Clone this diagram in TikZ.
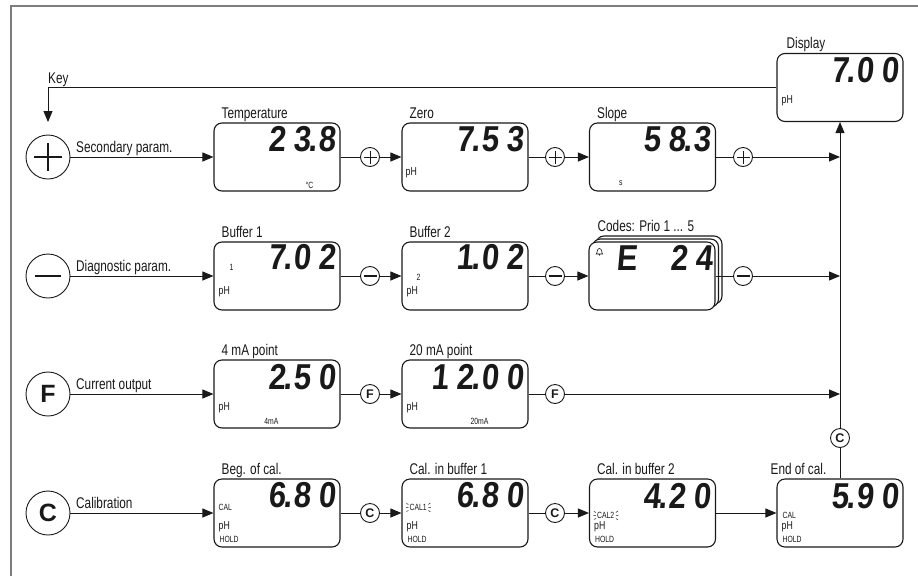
\documentclass[tikz,border=0pt]{standalone}
\usepackage{fontspec}
\setmainfont{Liberation Sans}[FakeStretch=0.76]
\newfontfamily\lcdfont{Liberation Sans}[FakeSlant=0.09, FakeStretch=0.86]
\newfontfamily\keyfont{Liberation Sans}
\usetikzlibrary{arrows.meta,calc}
\newcommand\lcdnum[1]{\lcdloop#1\relax}
\def\lcdloop#1{\ifx\relax#1\else\lcdch{#1}\expandafter\lcdloop\fi}
\def\lcdch#1{\ifx.#1\rlap{\kern-2pt.}\else\hbox to 25pt{\hss#1}\fi}
\newcommand\lcdblank{\hbox to 25pt{}}
\newcommand\lblfont{\fontsize{15.5}{18}\selectfont}
\newcommand\phfont{\fontsize{11.5}{13}\selectfont}
\newcommand\tinyfont{\fontsize{9}{10}\selectfont}
\definecolor{framec}{RGB}{125,125,125}
\definecolor{ink}{RGB}{25,25,25}
\tikzset{
  lcdbox/.style={draw=ink, rounded corners=8pt, minimum width=126pt, minimum height=68pt, line width=1.1pt, inner sep=0pt, fill=white},
  keyc/.style={draw=ink, circle, minimum size=44pt, inner sep=0pt, line width=0.9pt},
  smc/.style={draw=ink, circle, minimum size=19pt, inner sep=0pt, line width=0.9pt},
  conn/.style={draw=ink, line width=0.9pt},
  arr/.style={conn, -{Triangle[length=11pt,width=9pt]}},
  lbl/.style={inner sep=0pt, font=\lblfont, text=ink},
  num/.style={inner sep=0pt, font=\lcdfont\bfseries\fontsize{36}{40}\selectfont, text=ink, anchor=north east},
  phl/.style={inner sep=0pt, font=\phfont, text=ink, anchor=west},
  tiny/.style={inner sep=0pt, font=\tinyfont, text=ink},
  bigkey/.style={font=\keyfont\bfseries\fontsize{25}{26}\selectfont, text=ink, inner sep=0pt},
  smkey/.style={font=\keyfont\bfseries\fontsize{12.5}{13}\selectfont, text=ink, inner sep=0pt},
}
\begin{document}
\begin{tikzpicture}[x=1pt,y=-1pt]
\useasboundingbox (0,0) rectangle (918,576);
\draw[framec, line width=1.6pt] (11,576) -- (11,6) -- (918,6);

% ---------- boxes ----------
\node[lcdbox] (disp) at (840,87.5) {};
\node[lcdbox] (temp) at (277,157) {};
\node[lcdbox] (zero) at (465,157) {};
\node[lcdbox] (slope) at (652.5,157) {};
\node[lcdbox] (b1) at (277,276) {};
\node[lcdbox] (b2) at (465,276) {};
\node[lcdbox] (codesc) at (659,270) {};
\node[lcdbox] (codesb) at (655.5,273) {};
\node[lcdbox] (codes) at (652,276) {};
\node[lcdbox] (p1) at (277,394) {};
\node[lcdbox] (p2) at (465,394) {};
\node[lcdbox] (c1) at (277,513) {};
\node[lcdbox] (c2) at (465,513) {};
\node[lcdbox] (c3) at (652.5,513) {};
\node[lcdbox] (endc) at (840,513) {};

% ---------- box titles ----------
\node[lbl, anchor=base west] (tdisp) at ($(disp.north west)+(10,-4)$) {Display};
\node[lbl, anchor=base west] (ttemp) at ($(temp.north west)+(8,-4)$) {Temperature};
\node[lbl, anchor=base west] (tzero) at ($(zero.north west)+(8,-4)$) {Zero};
\node[lbl, anchor=base west] (tslope) at ($(slope.north west)+(8,-4)$) {Slope};
\node[lbl, anchor=base west] (tb1) at ($(b1.north west)+(8,-4)$) {Buffer 1};
\node[lbl, anchor=base west] (tb2) at ($(b2.north west)+(8,-4)$) {Buffer 2};
\node[lbl, anchor=base west] (tcodes) at ($(codes.north west)+(9,-10)$) {Codes: Prio 1 ... 5};
\node[lbl, anchor=base west] (tp1) at ($(p1.north west)+(8,-4)$) {4 mA point};
\node[lbl, anchor=base west] (tp2) at ($(p2.north west)+(8,-4)$) {20 mA point};
\node[lbl, anchor=base west] (tc1) at ($(c1.north west)+(8,-4)$) {Beg. of cal.};
\node[lbl, anchor=base west] (tc2) at ($(c2.north west)+(8,-4)$) {Cal. in buffer 1};
\node[lbl, anchor=base west] (tc3) at ($(c3.north west)+(8,-4)$) {Cal. in buffer 2};
\node[lbl, anchor=base west] (tendc) at ($(endc.north west)+(-6,-4)$) {End of cal.};

% ---------- readings ----------
\node[num] (ndisp) at ($(disp.north east)+(-5,4)$) {\lcdnum{7.00}};
\node[num] (ntemp) at ($(temp.north east)+(-5,4)$) {\lcdnum{23.8}};
\node[num] (nzero) at ($(zero.north east)+(-5,4)$) {\lcdnum{7.53}};
\node[num] (nslope) at ($(slope.north east)+(-5,4)$) {\lcdnum{58.3}};
\node[num] (nb1) at ($(b1.north east)+(-5,3)$) {\lcdnum{7.02}};
\node[num] (nb2) at ($(b2.north east)+(-5,3)$) {\lcdnum{1.02}};
\node[num] (ncodes) at ($(codes.north east)+(-3,4)$) {\lcdnum{E}\lcdblank\lcdnum{24}};
\node[num] (np1) at ($(p1.north east)+(-5,5)$) {\lcdnum{2.50}};
\node[num] (np2) at ($(p2.north east)+(-5,5)$) {\lcdnum{12.00}};
\node[num] (nc1) at ($(c1.north east)+(-5,4)$) {\lcdnum{6.80}};
\node[num] (nc2) at ($(c2.north east)+(-5,4)$) {\lcdnum{6.80}};
\node[num] (nc3) at ($(c3.north east)+(-5,5)$) {\lcdnum{4.20}};
\node[num] (nendc) at ($(endc.north east)+(-5,5)$) {\lcdnum{5.90}};

% ---------- small annotations ----------
\node[phl] (phdisp) at ($(disp.north west)+(5,48)$) {pH};
\node[tiny] (degc) at ($(temp.north west)+(96,63)$) {°C};
\node[phl] (phzero) at ($(zero.north west)+(4,50)$) {pH};
\node[tiny] (sslope) at ($(slope.north west)+(32,61)$) {s};
\node[tiny] (one) at ($(b1.north west)+(18,26)$) {1};
\node[phl] (phb1) at ($(b1.north west)+(5,50)$) {pH};
\node[tiny] (two) at ($(b2.north west)+(17,36)$) {2};
\node[phl] (phb2) at ($(b2.north west)+(5,50)$) {pH};
\node[phl] (php1) at ($(p1.north west)+(5,48)$) {pH};
\node[tiny] (ma4) at ($(p1.north west)+(58,62)$) {4mA};
\node[phl] (php2) at ($(p2.north west)+(5,48)$) {pH};
\node[tiny] (ma20) at ($(p2.north west)+(78,62)$) {20mA};
\node[tiny, anchor=west] (cal0) at ($(c1.north west)+(5,29)$) {CAL};
\node[phl] (phc1) at ($(c1.north west)+(5,48)$) {pH};
\node[tiny, anchor=west] (hold1) at ($(c1.north west)+(6,61)$) {HOLD};
\node[tiny, anchor=west] (cal1) at ($(c2.north west)+(8,29)$) {CAL1};
\node[phl] (phc2) at ($(c2.north west)+(5,48)$) {pH};
\node[tiny, anchor=west] (hold2) at ($(c2.north west)+(6,61)$) {HOLD};
\node[tiny, anchor=west] (cal2) at ($(c3.north west)+(8,37)$) {CAL2};
\node[phl] (phc3) at ($(c3.north west)+(5,48)$) {pH};
\node[tiny, anchor=west] (hold3) at ($(c3.north west)+(6,61)$) {HOLD};
\node[tiny, anchor=west] (cal3) at ($(endc.north west)+(6,37)$) {CAL};
\node[phl] (phendc) at ($(endc.north west)+(5,48)$) {pH};
\node[tiny, anchor=west] (hold4) at ($(endc.north west)+(6,61)$) {HOLD};

% blinking marks
\foreach \t in {cal1,cal2}{
  \draw[ink, line width=0.5pt]
    ($(\t.west)+(-1,-3)$) -- ($(\t.west)+(-3,-4)$)
    ($(\t.west)+(-1,0)$) -- ($(\t.west)+(-3.5,0)$)
    ($(\t.west)+(-1,3)$) -- ($(\t.west)+(-3,4)$)
    ($(\t.east)+(1.5,-3)$) -- ($(\t.east)+(3.5,-4.5)$)
    ($(\t.east)+(1.5,0)$) -- ($(\t.east)+(4,0)$)
    ($(\t.east)+(1.5,3)$) -- ($(\t.east)+(3.5,4.5)$);
}
% bell
\coordinate (bell) at ($(codes.north west)+(11,10)$);
\draw[ink, line width=0.6pt] ($(bell)+(-3.2,2.5)$) .. controls ($(bell)+(-2,2)$) and ($(bell)+(-2.8,-3)$) .. ($(bell)+(0,-3)$)
  .. controls ($(bell)+(2.8,-3)$) and ($(bell)+(2,2)$) .. ($(bell)+(3.2,2.5)$) -- cycle;
\fill[ink] ($(bell)+(0,3.3)$) circle (0.8pt);

% ---------- key circles ----------
\node[keyc] (kplus) at (48,157) {};
\draw[ink, line width=1.2pt] ($(kplus)+(-14,0)$) -- ($(kplus)+(14,0)$) ($(kplus)+(0,-14)$) -- ($(kplus)+(0,14)$);
\node[keyc] (kminus) at (48,276) {};
\draw[ink, line width=1.8pt] ($(kminus)+(-13,0)$) -- ($(kminus)+(13,0)$);
\node[keyc] (kf) at (48,394) {};
\node[bigkey] (kftxt) at (kf) {F};
\node[keyc] (kc) at (48,513) {};
\node[bigkey] (kctxt) at (kc) {C};

\node[lbl, anchor=base west] (l1) at (76,152.5) {Secondary param.};
\node[lbl, anchor=base west] (l2) at (76,271.5) {Diagnostic param.};
\node[lbl, anchor=base west] (l3) at (76,389.5) {Current output};
\node[lbl, anchor=base west] (l4) at (76,508.5) {Calibration};

% ---------- small circles ----------
\node[smc] (s1) at (370,157) {};
\node[smc] (s2) at (555,157) {};
\node[smc] (s3) at (743,157) {};
\foreach \s in {s1,s2,s3}{
  \draw[ink, line width=1pt] ($(\s)+(-6.5,0)$) -- ($(\s)+(6.5,0)$) ($(\s)+(0,-6.5)$) -- ($(\s)+(0,6.5)$);
}
\node[smc] (m1) at (370,276) {};
\node[smc] (m2) at (555,276) {};
\node[smc] (m3) at (743,276) {};
\foreach \s in {m1,m2,m3}{
  \draw[ink, line width=1.3pt] ($(\s)+(-6.5,0)$) -- ($(\s)+(6.5,0)$);
}
\node[smc] (f1) at (370,394) {};
\node[smkey] (f1t) at (f1) {F};
\node[smc] (f2) at (555,394) {};
\node[smkey] (f2t) at (f2) {F};
\node[smc] (cc1) at (370,513) {};
\node[smkey] (cc1t) at (cc1) {C};
\node[smc] (cc2) at (555,513) {};
\node[smkey] (cc2t) at (cc2) {C};
\node[smc] (cv) at (840,438) {};
\node[smkey] (cvt) at (cv) {C};

% ---------- connectors ----------
\coordinate (j1) at (840,157);
\coordinate (j2) at (840,276);
\coordinate (j3) at (840,394);
\coordinate (k1) at (48,87.5);
\coordinate (k2) at (48,122);
\node[lbl, anchor=base west] (keylbl) at (48,83.5) {Key};
\draw[arr] (disp.west) -- (k1) -- (k2);

\draw[arr] (kplus) -- (temp.west);
\draw[conn] (temp.east) -- (s1);
\draw[arr] (s1) -- (zero.west);
\draw[conn] (zero.east) -- (s2);
\draw[arr] (s2) -- (slope.west);
\draw[conn] (slope.east) -- (s3);
\draw[arr] (s3) -- (j1);

\draw[arr] (kminus) -- (b1.west);
\draw[conn] (b1.east) -- (m1);
\draw[arr] (m1) -- (b2.west);
\draw[conn] (b2.east) -- (m2);
\draw[arr] (m2) -- (codes.west);
\draw[conn] (codes.east) -- (m3);
\draw[arr] (m3) -- (j2);

\draw[arr] (kf) -- (p1.west);
\draw[conn] (p1.east) -- (f1);
\draw[arr] (f1) -- (p2.west);
\draw[conn] (p2.east) -- (f2);
\draw[arr] (f2) -- (j3);

\draw[arr] (kc) -- (c1.west);
\draw[conn] (c1.east) -- (cc1);
\draw[arr] (cc1) -- (c2.west);
\draw[conn] (c2.east) -- (cc2);
\draw[arr] (cc2) -- (c3.west);
\draw[arr] (c3.east) -- (endc.west);

\draw[conn] (endc.north) -- (cv);
\draw[arr] (cv) -- (disp.south);
\end{tikzpicture}
\end{document}
